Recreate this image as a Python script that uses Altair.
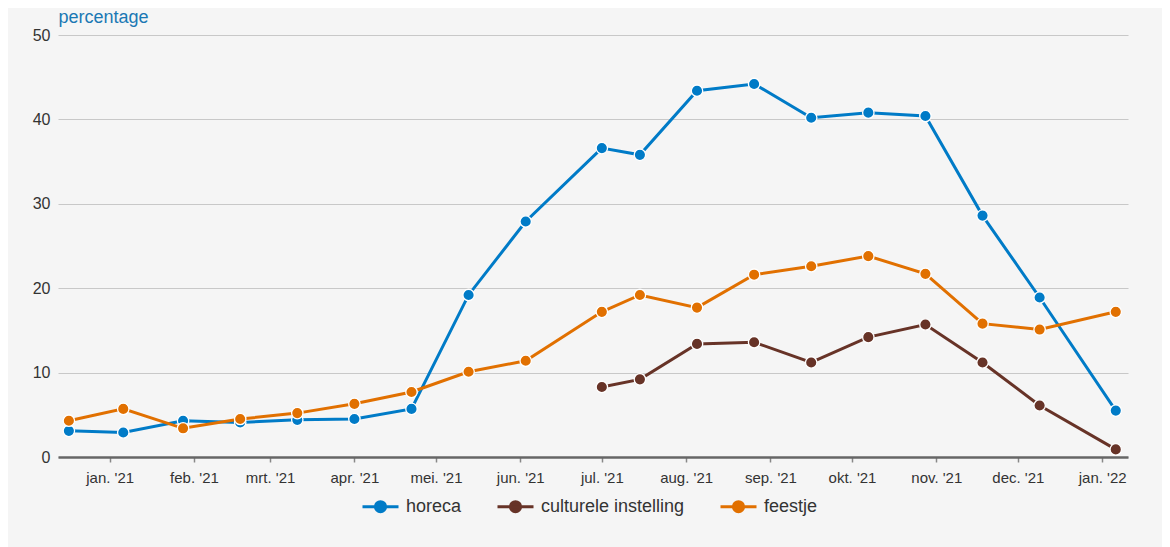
import altair as alt
import pandas as pd

dates = ["2020-12-17", "2021-01-06", "2021-01-28", "2021-02-18", "2021-03-11",
         "2021-04-01", "2021-04-22", "2021-05-13", "2021-06-03", "2021-07-01",
         "2021-07-15", "2021-08-05", "2021-08-26", "2021-09-16", "2021-10-07",
         "2021-10-28", "2021-11-18", "2021-12-09", "2022-01-06"]
horeca = [3.1, 2.9, 4.3, 4.1, 4.4, 4.5, 5.7, 19.2, 27.9, 36.6, 35.8, 43.4,
          44.2, 40.2, 40.8, 40.4, 28.6, 18.9, 5.5]
culturele = [None, None, None, None, None, None, None, None, None, 8.3, 9.2,
             13.4, 13.6, 11.2, 14.2, 15.7, 11.2, 6.1, 0.9]
feestje = [4.3, 5.7, 3.4, 4.5, 5.2, 6.3, 7.7, 10.1, 11.4, 17.2, 19.2, 17.7,
           21.6, 22.6, 23.8, 21.7, 15.8, 15.1, 17.2]

series_names = ["horeca", "culturele instelling", "feestje"]
series_colors = ["#007bc7", "#673327", "#e17000"]
month_names = ["jan.", "feb.", "mrt.", "apr.", "mei.", "jun.", "jul.",
               "aug.", "sep.", "okt.", "nov.", "dec."]
month_ticks = ["2021-01-01", "2021-02-01", "2021-03-01", "2021-04-01",
               "2021-05-01", "2021-06-01", "2021-07-01", "2021-08-01",
               "2021-09-01", "2021-10-01", "2021-11-01", "2021-12-01",
               "2022-01-01"]
x_domain = ["2020-12-13", "2022-01-10T12:00:00"]
y_ticks = [0, 10, 20, 30, 40, 50]

rows = []
for name, vals in zip(series_names, [horeca, culturele, feestje]):
    for d, v in zip(dates, vals):
        if v is not None:
            rows.append({"datum": d, "serie": name, "waarde": v})
df = pd.DataFrame(rows)


def ms(s):
    return int(pd.Timestamp(s, tz="UTC").value // 1_000_000)


FONT = "Liberation Sans"
month_js = "[" + ",".join("'%s'" % m for m in month_names) + "]"

x_enc = alt.X(
    "datum:T",
    scale=alt.Scale(type="utc", domain=[ms(s) for s in x_domain]),
    axis=alt.Axis(
        title=None,
        values=[ms(s) for s in month_ticks],
        labelExpr=month_js + "[utcmonth(datum.value)] + \" '\" + utcFormat(datum.value, '%y')",
        grid=False,
        domainColor="#666666",
        domainWidth=2.5,
        tickColor="#888888",
        tickSize=5,
        tickWidth=1.5,
        labelPadding=8,
        labelFontSize=15,
        labelColor="#333333",
        labelFont=FONT,
        labelAlign="center",
    ),
)
y_enc = alt.Y(
    "waarde:Q",
    scale=alt.Scale(domain=[0, 50], nice=False),
    axis=alt.Axis(
        title="percentage",
        titleAngle=0,
        titleAlign="left",
        titleBaseline="alphabetic",
        titleX=0,
        titleY=-13,
        titleColor="#1a78b4",
        titleFont=FONT,
        titleFontSize=18,
        titleFontWeight="normal",
        values=y_ticks,
        domain=False,
        ticks=False,
        gridColor="#c8c8c8",
        gridWidth=1.2,
        labelPadding=8,
        labelFontSize=16,
        labelColor="#333333",
        labelFont=FONT,
    ),
)
color_scale = alt.Scale(domain=series_names, range=series_colors)

legend_path = ("M-1,0L1,0 M0,-0.28 A0.28,0.28 0 1,1 0,0.28 "
               "A0.28,0.28 0 1,1 0,-0.28 Z")
legend = alt.Legend(
    title=None,
    orient="none",
    direction="horizontal",
    legendX=303,
    legendY=452,
    symbolType=legend_path,
    symbolSize=1296,
    symbolStrokeWidth=3,
    symbolOpacity=1,
    labelFont=FONT,
    labelFontSize=18,
    labelColor="#333333",
    labelOffset=6,
    columnPadding=29,
)
color_enc = alt.Color("serie:N", scale=color_scale, legend=legend)

lines = alt.Chart(df).mark_line(strokeWidth=3).encode(
    x=x_enc,
    y=y_enc,
    color=color_enc,
)
points = alt.Chart(df).mark_circle(
    size=130, stroke="white", strokeWidth=1.3, opacity=1
).encode(
    x=x_enc,
    y=y_enc,
    color=color_enc,
)

chart = alt.layer(lines, points).properties(
    width=1070,
    height=422,
    autosize=alt.AutoSizeParams(type="none"),
    padding={"left": 50, "top": 27, "right": 34, "bottom": 90},
    background="#f5f5f5",
).configure_view(stroke=None)

chart.save("out.html", embed_options={"renderer": "svg", "actions": False})
